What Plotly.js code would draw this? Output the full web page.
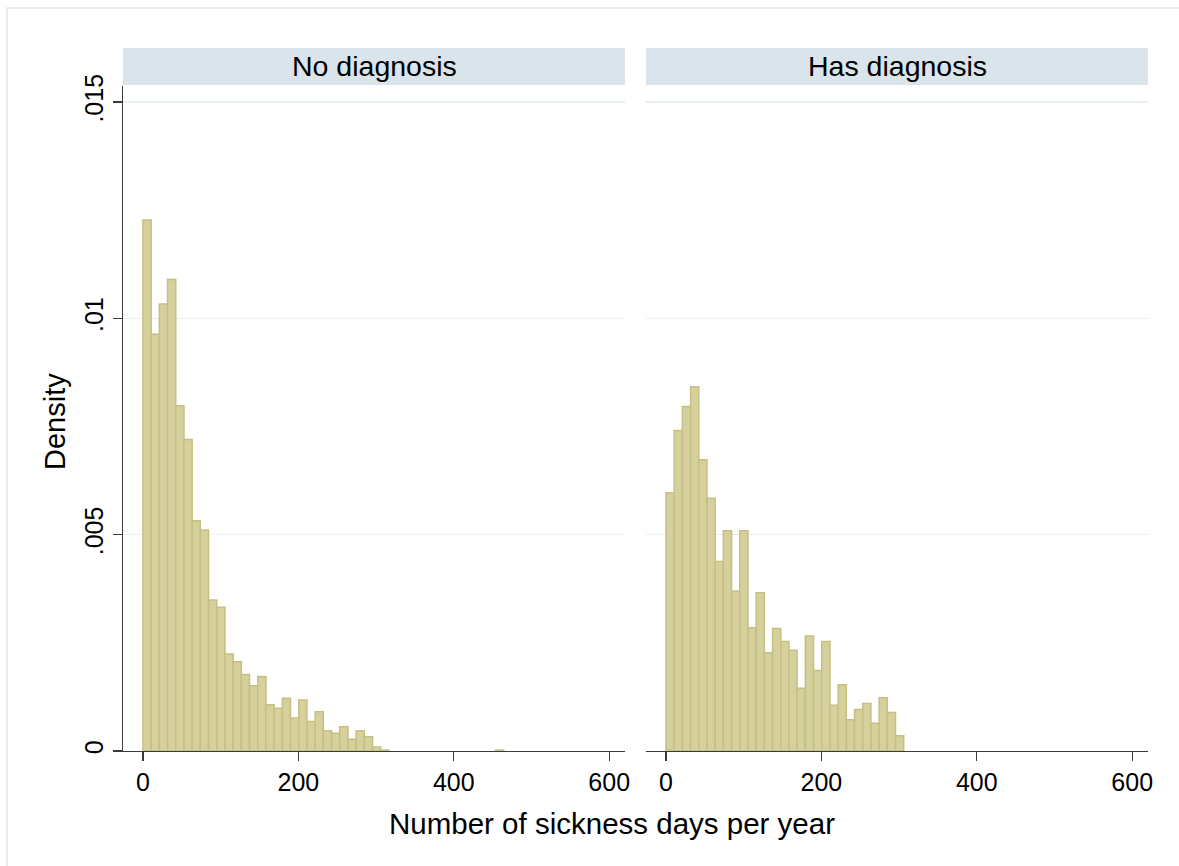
<!DOCTYPE html>
<html>
<head>
<meta charset="utf-8">
<script src="https://cdn.plot.ly/plotly-3.0.1.min.js"></script>
<style>
  html, body { margin: 0; padding: 0; background: #ffffff; }
  #chart { width: 1179px; height: 866px; }
</style>
</head>
<body>
<div id="chart"></div>
<script>
// ---- data ----
const panelTitles = ['No diagnosis', 'Has diagnosis'];
const binStart = 0;
const binWidth = 10.55;   // days per histogram bin

// densities per bin, "No diagnosis" (null = empty bin)
const densNoDiag = [
  0.01227, 0.00963, 0.01033, 0.01090, 0.00798, 0.00720, 0.00532, 0.00511,
  0.00349, 0.00332, 0.00224, 0.00206, 0.00177, 0.00151, 0.00172, 0.00107,
  0.00099, 0.00122, 0.00076, 0.00118, 0.00068, 0.00091, 0.00047, 0.00041,
  0.00056, 0.00027, 0.00047, 0.00033, 0.00009, 0.00002,
  null, null, null, null, null, null, null, null, null, null, null, null, null,
  0.00002
];
// densities per bin, "Has diagnosis"
const densHasDiag = [
  0.00597, 0.00741, 0.00796, 0.00842, 0.00673, 0.00584, 0.00438, 0.00509,
  0.00370, 0.00509, 0.00285, 0.00366, 0.00227, 0.00283, 0.00253, 0.00233,
  0.00145, 0.00266, 0.00186, 0.00253, 0.00106, 0.00153, 0.00072, 0.00096,
  0.00110, 0.00064, 0.00123, 0.00089, 0.00035
];

const xTickVals = [0, 200, 400, 600];
const xTickText = ['0', '200', '400', '600'];
const yTickVals = [0, 0.005, 0.01, 0.015];
const yTickText = ['0', '.005', '.01', '.015'];
const xTitle = 'Number of sickness days per year';
const yTitle = 'Density';

// ---- build ----
function centers(arr) { return arr.map((_, i) => binStart + (i + 0.5) * binWidth); }

const FONT = 'Liberation Sans, Arial, sans-serif';
const barFill = 'rgb(213,208,157)';
const barLine = 'rgb(198,192,128)';

const traces = [
  { type: 'bar', x: centers(densNoDiag), y: densNoDiag, width: binWidth,
    xaxis: 'x', yaxis: 'y',
    marker: { color: barFill, line: { color: barLine, width: 1.5 } },
    hoverinfo: 'x+y', showlegend: false },
  { type: 'bar', x: centers(densHasDiag), y: densHasDiag, width: binWidth,
    xaxis: 'x2', yaxis: 'y2',
    marker: { color: barFill, line: { color: barLine, width: 1.5 } },
    hoverinfo: 'x+y', showlegend: false }
];

const W = 1179, H = 866;
const L = 123, R = 31, T = 86, B = 115;
const pw = W - L - R, ph = H - T - B;
const px2x = p => (p - L) / pw;
const py2y = p => (H - B - p) / ph;

const xr = [-25.7, 620.3];
const yr = [0, 0.01537];
const gridCol = '#e9f0f2';
const axisCol = '#3a3a3a';

const xCommon = {
  range: xr, tickvals: xTickVals, ticktext: xTickText,
  ticks: 'outside', ticklen: 9, tickwidth: 1.2, tickcolor: axisCol,
  showline: true, linecolor: axisCol, linewidth: 1.2,
  showgrid: false, zeroline: false,
  tickfont: { family: FONT, size: 25, color: '#000' }
};

const layout = {
  width: W, height: H,
  margin: { l: L, r: R, t: T, b: B },
  paper_bgcolor: '#ffffff', plot_bgcolor: '#ffffff',
  font: { family: FONT, color: '#000' },
  bargap: 0,
  xaxis: Object.assign({}, xCommon, { domain: [0, px2x(625)], anchor: 'y' }),
  xaxis2: Object.assign({}, xCommon, { domain: [px2x(646), 1], anchor: 'y2' }),
  yaxis: {
    domain: [0, 1], anchor: 'x', range: yr,
    tickvals: yTickVals, ticktext: yTickText, tickangle: -90,
    ticks: 'outside', ticklen: 9, tickwidth: 1.2, tickcolor: axisCol,
    showline: true, linecolor: axisCol, linewidth: 1.2,
    showgrid: true, gridcolor: gridCol, gridwidth: 1.5, zeroline: false,
    tickfont: { family: FONT, size: 25, color: '#000' }
  },
  yaxis2: {
    domain: [0, 1], anchor: 'x2', range: yr, matches: 'y',
    tickvals: yTickVals, showticklabels: false, ticks: '',
    showline: false, showgrid: true, gridcolor: gridCol, gridwidth: 1.5, zeroline: false
  },
  shapes: [
    // outer frame
    { type: 'rect', xref: 'paper', yref: 'paper', layer: 'below',
      x0: px2x(7), x1: px2x(1195), y0: py2y(885), y1: py2y(8),
      line: { color: '#e8eef1', width: 2 }, fillcolor: 'rgba(0,0,0,0)' },
    // strips
    { type: 'rect', xref: 'paper', yref: 'paper', layer: 'below',
      x0: 0, x1: px2x(625), y0: py2y(85), y1: py2y(48),
      line: { width: 0 }, fillcolor: '#d9e5ea' },
    { type: 'rect', xref: 'paper', yref: 'paper', layer: 'below',
      x0: px2x(646), x1: 1, y0: py2y(85), y1: py2y(48),
      line: { width: 0 }, fillcolor: '#d9e5ea' }
  ],
  annotations: [
    { text: panelTitles[0], xref: 'paper', yref: 'paper', x: px2x(374), y: py2y(66.5),
      showarrow: false, xanchor: 'center', yanchor: 'middle',
      font: { family: FONT, size: 28.5, color: '#000' } },
    { text: panelTitles[1], xref: 'paper', yref: 'paper', x: px2x(897), y: py2y(66.5),
      showarrow: false, xanchor: 'center', yanchor: 'middle',
      font: { family: FONT, size: 28.5, color: '#000' } },
    { text: xTitle, xref: 'paper', yref: 'paper', x: px2x(612), y: py2y(823),
      showarrow: false, xanchor: 'center', yanchor: 'middle',
      font: { family: FONT, size: 29.5, color: '#000' } },
    { text: yTitle, xref: 'paper', yref: 'paper', x: px2x(55), y: py2y(422),
      showarrow: false, xanchor: 'center', yanchor: 'middle', textangle: -90,
      font: { family: FONT, size: 29, color: '#000' } }
  ]
};

Plotly.newPlot('chart', traces, layout, { staticPlot: true, displayModeBar: false });
</script>
</body>
</html>
